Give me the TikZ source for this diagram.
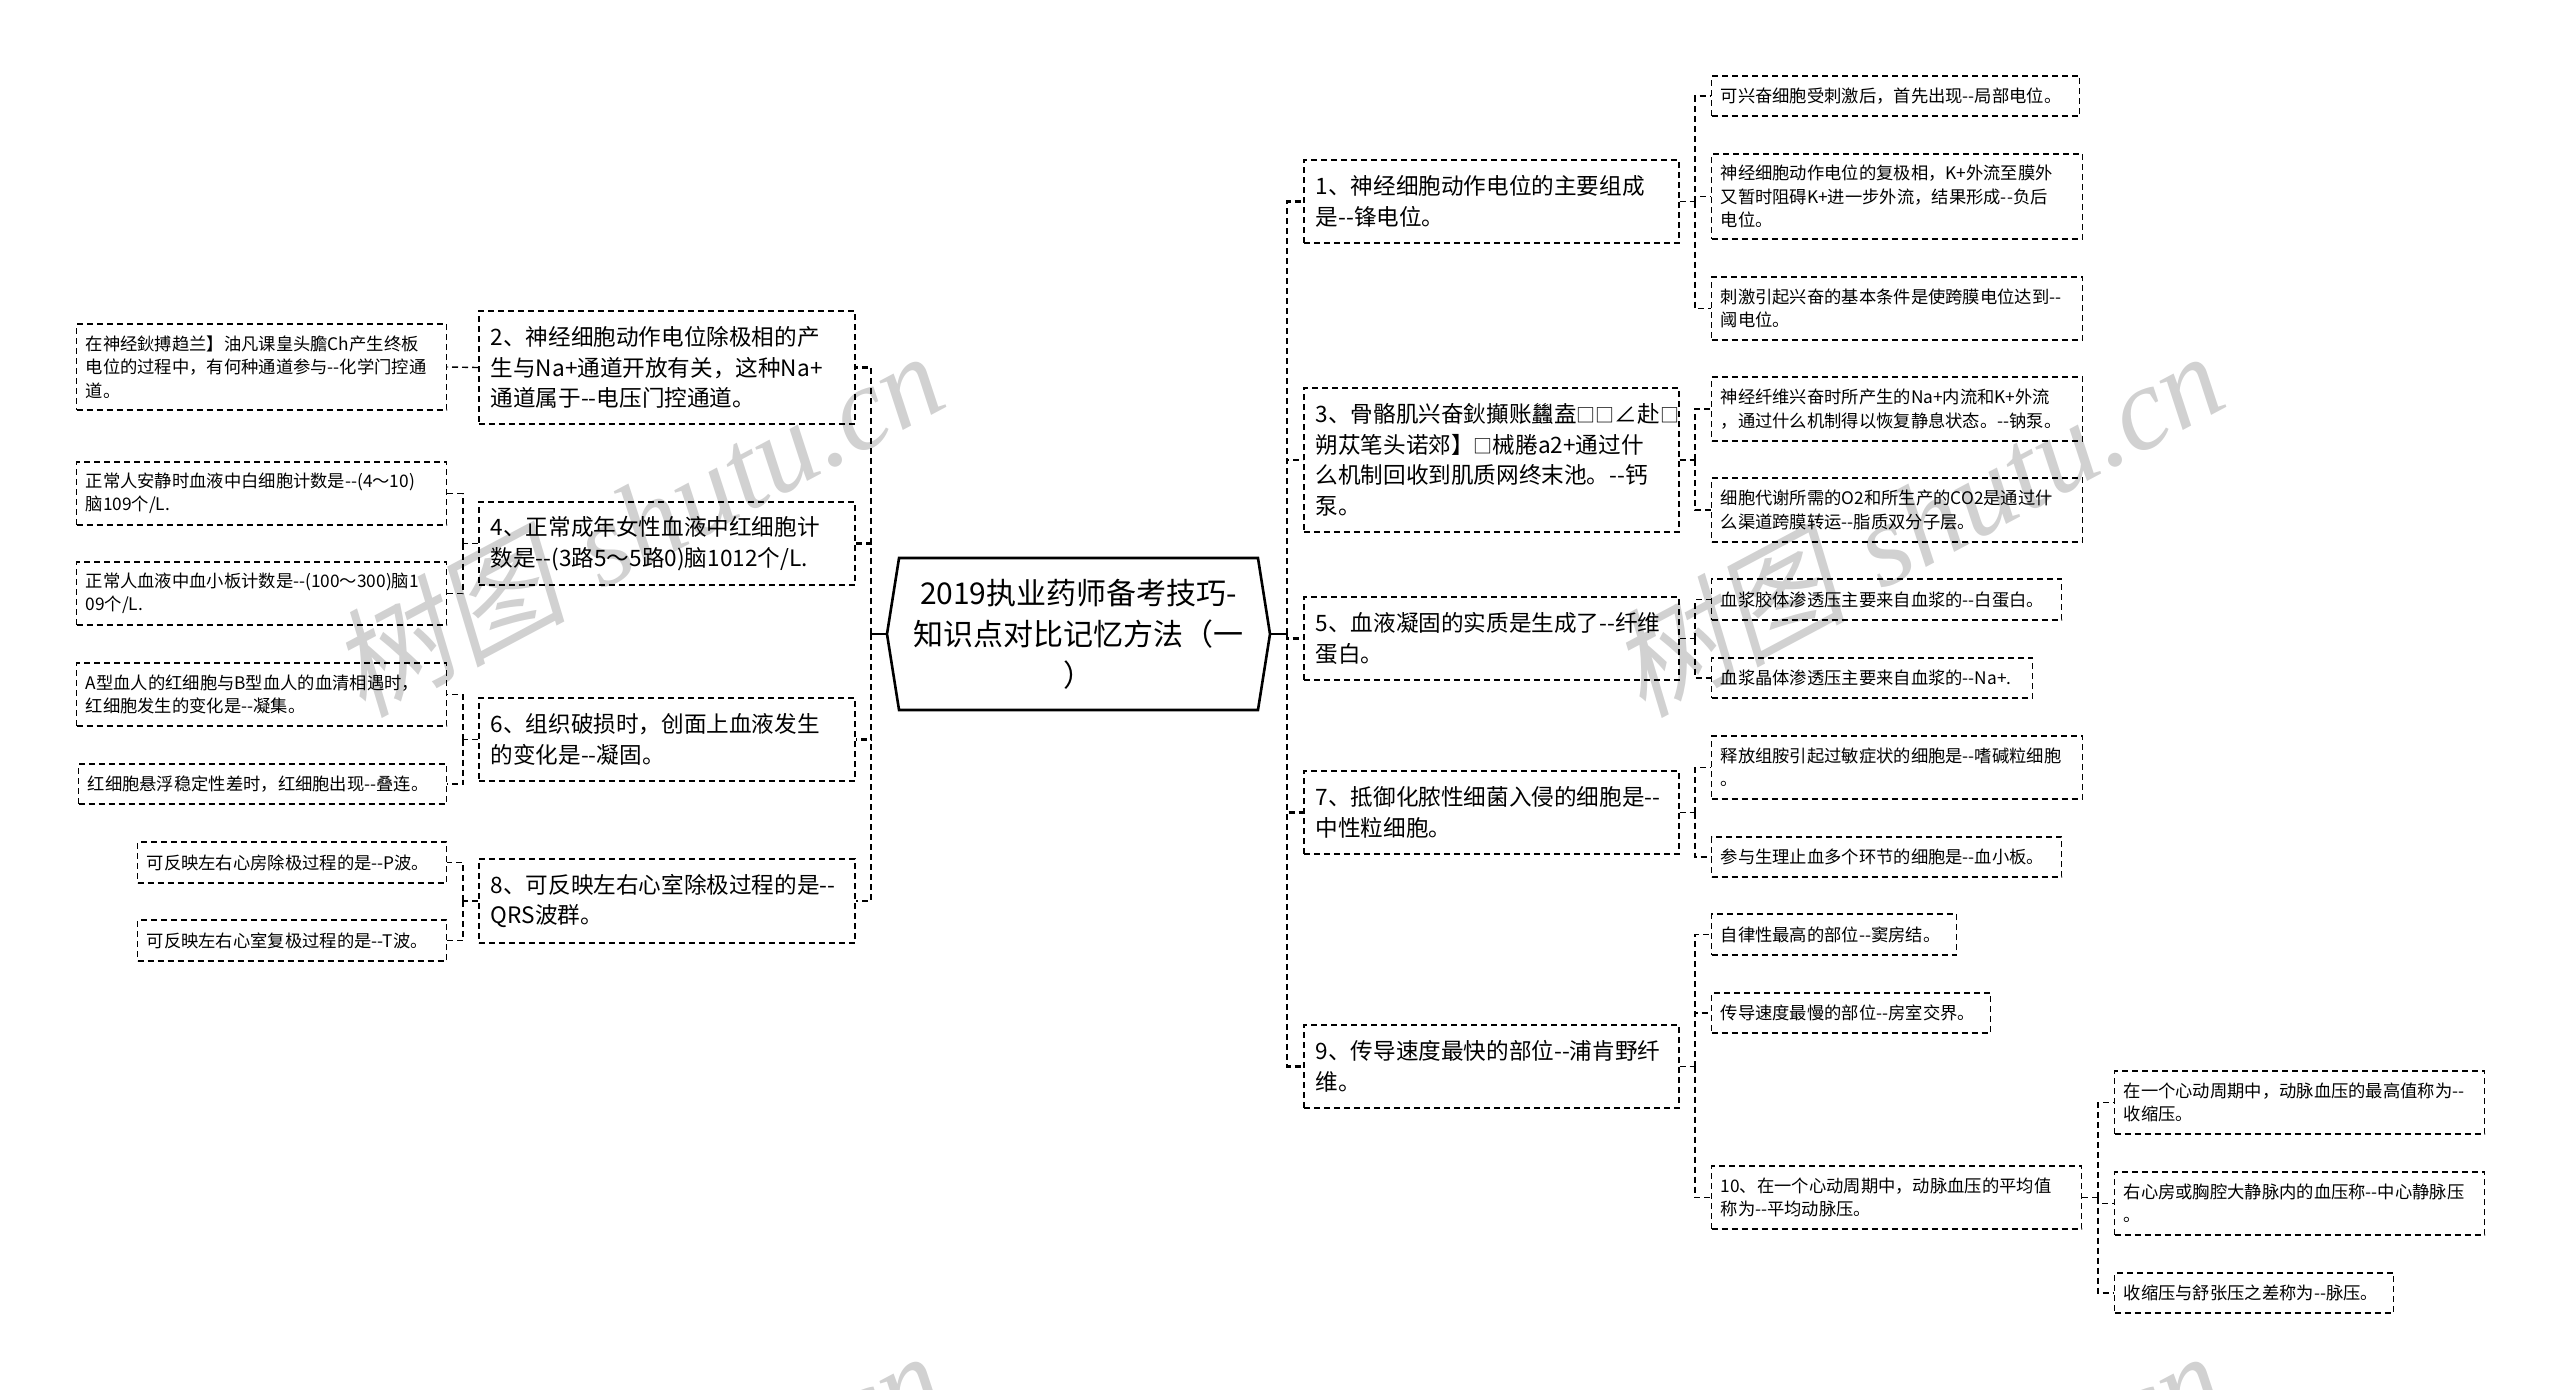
\documentclass[tikz,border=0pt]{standalone}
\usepackage{fontspec}
\usetikzlibrary{shapes.symbols}
\newfontfamily\cnfont{Noto Sans CJK SC}
\newfontfamily\markcn[FakeSlant=0.2]{Noto Sans CJK SC}
\newfontfamily\marklat{Liberation Serif}
\newcommand{\tofu}{{\fontsize{9.5}{9.5}\selectfont □}}
\definecolor{markgray}{gray}{0.82}
\tikzset{
	leaf/.style 2 args={draw,line width=0.7pt,dash pattern=on 3pt off 2pt,anchor=west,align=left,
		inner xsep=4.5pt,inner ysep=0pt,text width=#1*0.5pt-9pt,minimum height=#2*0.5pt,
		font=\cnfont\fontsize{8.65}{11.65}\selectfont},
	topic/.style 2 args={draw,line width=0.75pt,dash pattern=on 3pt off 2pt,anchor=west,align=left,
		inner xsep=6pt,inner ysep=0pt,text width=#1*0.5pt-12pt,minimum height=#2*0.5pt,
		font=\cnfont\fontsize{11.3}{15.25}\selectfont},
	link/.style={line width=0.7pt,dash pattern=on 3pt off 2pt},
	bus/.style={line width=1.2pt,dash pattern=on 3pt off 2pt},
	wmark/.style={text=markgray,rotate=28,inner sep=0pt}
}
\begin{document}
\begin{tikzpicture}[x=0.5pt,y=-0.5pt]
\useasboundingbox (0,0) rectangle (2560,1389);

\foreach \mx in {636,1916}{
	\foreach \my in {522,1522}{
		\node[wmark] (mark\mx\my) at (\mx,\my) {\fontsize{59}{59}\selectfont{\markcn 树图} {\marklat\itshape shutu.cn}};
	}
}

\node[draw,line width=1.3pt,shape=signal,signal to=east and west,signal pointer angle=162,
	minimum width=383*0.5pt,minimum height=152*0.5pt,inner sep=0pt,align=center,
	font=\cnfont\fontsize{15}{20.5}\selectfont] (root) at (1078.5,634) {2019执业药师备考技巧-\\知识点对比记忆方法（一\\）};

\node[topic={376}{113}] (n2) at (478,367.5) {2、神经细胞动作电位除极相的产\\生与Na+通道开放有关，这种Na+\\通道属于--电压门控通道。};
\node[topic={376}{83}] (n4) at (478,543.5) {4、正常成年女性血液中红细胞计\\数是--(3路5～5路0)脑1012个/L.};
\node[topic={376}{83}] (n6) at (478,739.5) {6、组织破损时，创面上血液发生\\的变化是--凝固。};
\node[topic={376}{84}] (n8) at (478,901) {8、可反映左右心室除极过程的是--\\QRS波群。};

\node[leaf={370}{86}] (c2) at (76,367) {在神经鈥搏趋兰】油凡课皇头膽Ch产生终板\\电位的过程中，有何种通道参与--化学门控通\\道。};
\node[leaf={370}{63}] (c4a) at (76,493.5) {正常人安静时血液中白细胞计数是--(4～10)\\脑109个/L.};
\node[leaf={370}{63}] (c4b) at (76,593.5) {正常人血液中血小板计数是--(100～300)脑1\\09个/L.};
\node[leaf={370}{63}] (c6a) at (76,694.5) {A型血人的红细胞与B型血人的血清相遇时，\\红细胞发生的变化是--凝集。};
\node[leaf={368}{40}] (c6b) at (78,784) {红细胞悬浮稳定性差时，红细胞出现--叠连。};
\node[leaf={309}{41}] (c8a) at (137,862.5) {可反映左右心房除极过程的是--P波。};
\node[leaf={309}{41}] (c8b) at (137,940.5) {可反映左右心室复极过程的是--T波。};

\node[topic={375}{83}] (n1) at (1303,201.5) {1、神经细胞动作电位的主要组成\\是--锋电位。};
\node[topic={375}{144}] (n3) at (1303,460) {3、骨骼肌兴奋鈥攧账蠿盍\tofu\tofu∠赴\tofu\\朔苁笔头诺郊】\tofu 械腃a2+通过什\\么机制回收到肌质网终末池。--钙\\泵。};
\node[topic={375}{83}] (n5) at (1303,638.5) {5、血液凝固的实质是生成了--纤维\\蛋白。};
\node[topic={375}{83}] (n7) at (1303,812.5) {7、抵御化脓性细菌入侵的细胞是--\\中性粒细胞。};
\node[topic={375}{83}] (n9) at (1303,1066.5) {9、传导速度最快的部位--浦肯野纤\\维。};

\node[leaf={368}{40}] (c1a) at (1711,96) {可兴奋细胞受刺激后，首先出现--局部电位。};
\node[leaf={371}{85}] (c1b) at (1711,196.5) {神经细胞动作电位的复极相，K+外流至膜外\\又暂时阻碍K+进一步外流，结果形成--负后\\电位。};
\node[leaf={371}{63}] (c1c) at (1711,308.5) {刺激引起兴奋的基本条件是使跨膜电位达到--\\阈电位。};
\node[leaf={371}{64}] (c3a) at (1711,409) {神经纤维兴奋时所产生的Na+内流和K+外流\\，通过什么机制得以恢复静息状态。--钠泵。};
\node[leaf={371}{64}] (c3b) at (1711,510) {细胞代谢所需的O2和所生产的CO2是通过什\\么渠道跨膜转运--脂质双分子层。};
\node[leaf={350}{41}] (c5a) at (1711,599.5) {血浆胶体渗透压主要来自血浆的--白蛋白。};
\node[leaf={321}{40}] (c5b) at (1711,678) {血浆晶体渗透压主要来自血浆的--Na+.};
\node[leaf={371}{63}] (c7a) at (1711,767.5) {释放组胺引起过敏症状的细胞是--嗜碱粒细胞\\。};
\node[leaf={350}{40}] (c7b) at (1711,857) {参与生理止血多个环节的细胞是--血小板。};
\node[leaf={245}{41}] (c9a) at (1711,934.5) {自律性最高的部位--窦房结。};
\node[leaf={279}{40}] (c9b) at (1711,1013) {传导速度最慢的部位--房室交界。};
\node[leaf={370}{63}] (c9c) at (1711,1197.5) {10、在一个心动周期中，动脉血压的平均值\\称为--平均动脉压。};
\node[leaf={370}{63}] (d1) at (2114,1102.5) {在一个心动周期中，动脉血压的最高值称为--\\收缩压。};
\node[leaf={370}{63}] (d2) at (2114,1203.5) {右心房或胸腔大静脉内的血压称--中心静脉压\\。};
\node[leaf={279}{40}] (d3) at (2114,1293) {收缩压与舒张压之差称为--脉压。};

\coordinate (jl) at (871,634);
\coordinate (jr) at (1287,634);
\coordinate (j4) at (463,543.5);
\coordinate (j6) at (463,739.5);
\coordinate (j8) at (463,901);
\coordinate (j1) at (1695,201.5);
\coordinate (j3) at (1695,460);
\coordinate (j5) at (1695,638.5);
\coordinate (j7) at (1695,812.5);
\coordinate (j9) at (1695,1066.5);
\coordinate (j10) at (2098,1197.5);

\draw[line width=1.3pt] (root.west)--(jl);
\draw[line width=1.3pt] (root.east)--(jr);
\foreach \n in {n2,n4,n6,n8}{
	\draw[bus] (jl)|-(\n.east);
}
\foreach \n in {n1,n3,n5,n7,n9}{
	\draw[bus] (jr)|-(\n.west);
}
\draw[link] (n2.west)--(c2.east);
\draw[link] (n4.west)--(j4);
\draw[link] (n6.west)--(j6);
\draw[link] (n8.west)--(j8);
\draw[link] (n1.east)--(j1);
\draw[link] (n3.east)--(j3);
\draw[link] (n5.east)--(j5);
\draw[link] (n7.east)--(j7);
\draw[link] (n9.east)--(j9);
\draw[link] (c9c.east)--(j10);
\foreach \j/\k in {j4/c4a,j4/c4b,j6/c6a,j6/c6b,j8/c8a,j8/c8b}{
	\draw[link] (\j)|-(\k.east);
}
\foreach \j/\k in {j1/c1a,j1/c1b,j1/c1c,j3/c3a,j3/c3b,j5/c5a,j5/c5b,j7/c7a,j7/c7b,j9/c9a,j9/c9b,j9/c9c,j10/d1,j10/d2,j10/d3}{
	\draw[link] (\j)|-(\k.west);
}

\end{tikzpicture}
\end{document}
